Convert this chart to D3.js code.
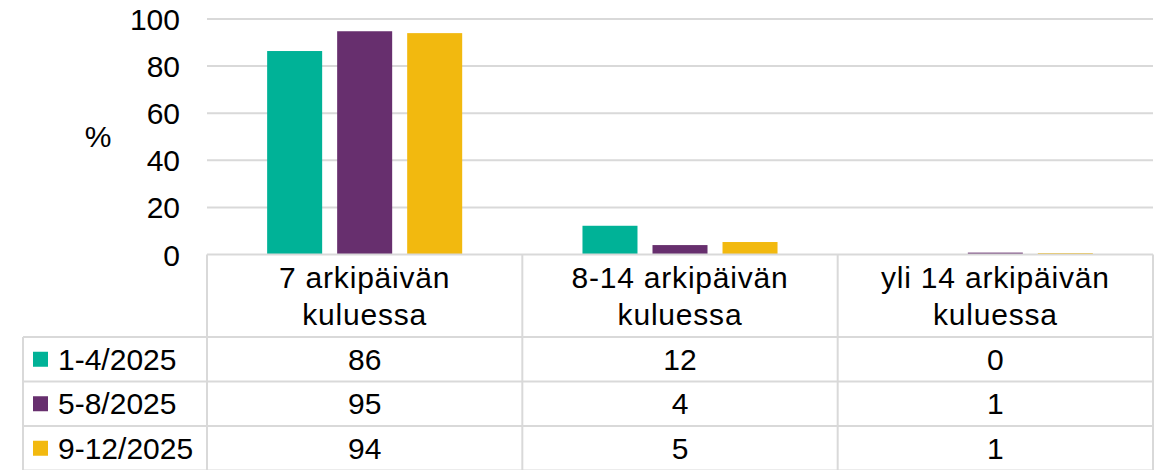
<!DOCTYPE html>
<html>
<head>
<meta charset="utf-8">
<script src="https://cdn.jsdelivr.net/npm/d3@7"></script>
<style>
  body { margin: 0; background: #fff; }
  svg { display: block; font-family: "Liberation Sans", Arial, sans-serif; }
</style>
</head>
<body>
<div id="chart"></div>
<script>
// categories (two-line labels) and series
const categories = ["7 arkipäivän kuluessa", "8-14 arkipäivän kuluessa", "yli 14 arkipäivän kuluessa"];
const categoryLines = [["7 arkipäivän", "kuluessa"], ["8-14 arkipäivän", "kuluessa"], ["yli 14 arkipäivän", "kuluessa"]];
const seriesNames = ["1-4/2025", "5-8/2025", "9-12/2025"];
const seriesColors = ["#00b297", "#672f6e", "#f2b90f"];
// values, table shows them rounded
const values1 = [86.4, 12.2, 0];
const values2 = [94.8, 4.0, 0.8];
const values3 = [94.0, 5.3, 0.6];
const yTicks = [0, 20, 40, 60, 80, 100];

const allValues = [values1, values2, values3];

const W = 1164, H = 470;
const plotLeft = 207, plotRight = 1153, plotTop = 19, plotBottom = 254.5;
const tableLeft = 23;
const headerH = 82.5, rowH = 44.5;
const gridColor = "#d9d9d9";
const fontSize = "30px";

const svg = d3.select("#chart").append("svg")
    .attr("width", W)
    .attr("height", H);

let x = d3.scaleBand().domain(categories).range([plotLeft, plotRight]);
let xs = d3.scaleBand().domain(seriesNames)
    .range([0, x.bandwidth()])
    .paddingInner(15 / 70)
    .paddingOuter(0.859);
let y = d3.scaleLinear().domain([0, 100]).range([plotBottom, plotTop]);

//gridlines (0 is drawn by the table border)
svg.append("g")
    .selectAll("line")
    .data(yTicks.filter(d => d > 0))
    .join("line")
    .attr("x1", plotLeft)
    .attr("x2", plotRight)
    .attr("y1", d => y(d))
    .attr("y2", d => y(d))
    .attr("stroke", gridColor)
    .attr("stroke-width", 2);

//y axis labels
let yAxis = svg.append("g")
    .attr("transform", `translate(${plotLeft - 27},0)`)
    .call(d3.axisLeft(y).tickValues(yTicks).tickSize(0).tickPadding(0));
yAxis.select(".domain").remove();
yAxis.selectAll("text")
    .style("font-size", fontSize)
    .style("font-family", "Liberation Sans, Arial, sans-serif")
    .attr("fill", "#000")
    .attr("dy", "0.35em");

svg.append("text")
    .attr("x", 98)
    .attr("y", (plotTop + plotBottom) / 2)
    .attr("text-anchor", "middle")
    .attr("dy", "0.35em")
    .style("font-size", fontSize)
    .text("%");

//bars
seriesNames.forEach((s, si) => {
    svg.append("g")
        .selectAll("rect")
        .data(allValues[si])
        .join("rect")
        .attr("x", (d, i) => x(categories[i]) + xs(s))
        .attr("y", d => y(d))
        .attr("width", xs.bandwidth())
        .attr("height", d => y(0) - y(d))
        .attr("fill", seriesColors[si]);
});

//data table
let table = svg.append("g")
    .attr("stroke", gridColor)
    .attr("stroke-width", 2)
    .attr("fill", "none");

let rowTops = d3.range(seriesNames.length + 1).map(i => plotBottom + headerH + i * rowH);

//top border of header (axis line)
table.append("line")
    .attr("x1", plotLeft).attr("x2", plotRight)
    .attr("y1", plotBottom).attr("y2", plotBottom);
//row lines
table.selectAll(".rowline")
    .data(rowTops)
    .join("line")
    .attr("class", "rowline")
    .attr("x1", tableLeft).attr("x2", plotRight)
    .attr("y1", d => d).attr("y2", d => d);
//column lines
let colEdges = categories.map(c => x(c)).concat([plotRight]);
table.selectAll(".colline")
    .data(colEdges)
    .join("line")
    .attr("class", "colline")
    .attr("x1", d => d).attr("x2", d => d)
    .attr("y1", plotBottom).attr("y2", H + 5);
table.append("line")
    .attr("x1", tableLeft).attr("x2", tableLeft)
    .attr("y1", rowTops[0]).attr("y2", H + 5);

//header labels
categories.forEach((c, i) => {
    let cx = x(c) + x.bandwidth() / 2;
    let cy = plotBottom + headerH / 2;
    let lines = categoryLines[i];
    let t = svg.append("text")
        .attr("text-anchor", "middle")
        .style("font-size", fontSize)
        .style("letter-spacing", "0.8px")
        .attr("fill", "#000");
    lines.forEach((l, li) => {
        t.append("tspan")
            .attr("x", cx)
            .attr("y", cy + (li - (lines.length - 1) / 2) * 37)
            .attr("dy", "0.35em")
            .text(l);
    });
});

//rows: legend key + values
seriesNames.forEach((s, si) => {
    let cy = rowTops[si] + rowH / 2;
    svg.append("rect")
        .attr("x", 33)
        .attr("y", cy - 7.5)
        .attr("width", 15)
        .attr("height", 15)
        .attr("fill", seriesColors[si]);
    svg.append("text")
        .attr("x", 58)
        .attr("y", cy)
        .attr("dy", "0.35em")
        .style("font-size", fontSize)
        .text(s);
    svg.append("g")
        .selectAll("text")
        .data(allValues[si])
        .join("text")
        .attr("x", (d, i) => x(categories[i]) + x.bandwidth() / 2)
        .attr("y", cy)
        .attr("dy", "0.35em")
        .attr("text-anchor", "middle")
        .style("font-size", fontSize)
        .text(d => Math.round(d));
});
</script>
</body>
</html>
